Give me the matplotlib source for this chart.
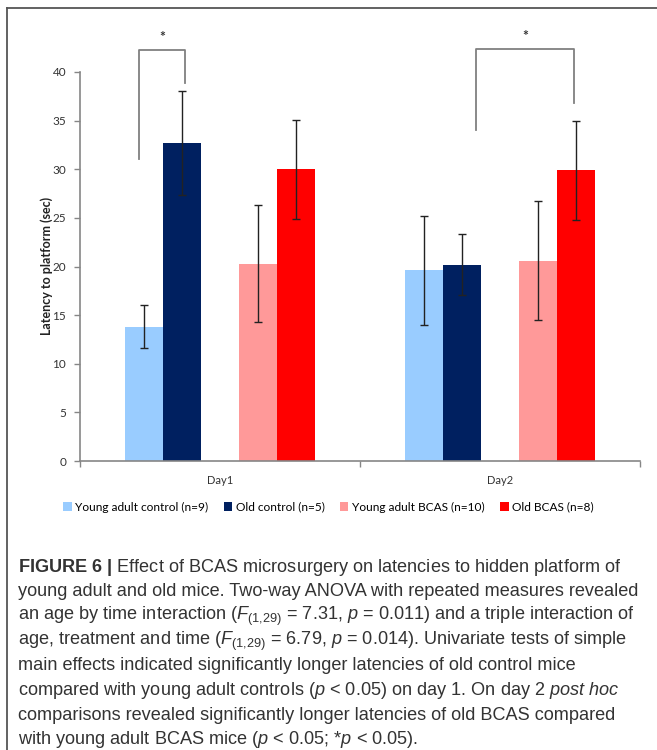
import numpy as np
import matplotlib
matplotlib.use('Agg')
from matplotlib import pyplot as plt
from matplotlib.lines import Line2D
from matplotlib.patches import Patch

# data
days = ['Day1', 'Day2']
groups = ['Young adult control (n=9)', 'Old control (n=5)',
          'Young adult BCAS (n=10)', 'Old BCAS (n=8)']
young_control = [13.8, 19.6]
old_control = [32.7, 20.2]
young_bcas = [20.3, 20.6]
old_bcas = [30.0, 29.9]
young_control_err = [2.2, 5.6]
old_control_err = [5.3, 3.1]
young_bcas_err = [6.0, 6.1]
old_bcas_err = [5.1, 5.1]

# significance brackets: (x left, x right, y left foot, y right foot, y top)
brackets = [(0.212, 0.375, 31.1, 38.9, 42.3),
            (1.414, 1.764, 34.0, 36.8, 42.4)]

caption_lines = [
    r'$\mathbf{FIGURE\ 6\ |}$ Effect of BCAS microsurgery on latencies to hidden platform of',
    'young adult and old mice. Two-way ANOVA with repeated measures revealed',
    r'an age by time interaction ($\mathit{F}_{(1{,}29)}$ = 7.31, $\mathit{p}$ = 0.011) and a triple interaction of',
    r'age, treatment and time ($\mathit{F}_{(1{,}29)}$ = 6.79, $\mathit{p}$ = 0.014). Univariate tests of simple',
    'main effects indicated significantly longer latencies of old control mice',
    r'compared with young adult controls ($\mathit{p}$ < 0.05) on day 1. On day 2 $\mathit{post\ hoc}$',
    'comparisons revealed significantly longer latencies of old BCAS compared',
    r'with young adult BCAS mice ($\mathit{p}$ < 0.05; *$\mathit{p}$ < 0.05).',
]

colors = ['#99ccff', '#002060', '#ff9999', '#ff0000']

plt.rcParams['mathtext.fontset'] = 'custom'
plt.rcParams['mathtext.rm'] = 'Liberation Sans'
plt.rcParams['mathtext.it'] = 'Liberation Sans:italic'
plt.rcParams['mathtext.bf'] = 'Liberation Sans:bold'

W, H = 657, 750
fig = plt.figure(figsize=(W / 100, H / 100), dpi=100)

ax = fig.add_axes([80 / W, 1 - 461 / H, 560 / W, 389 / H])

slot = 38 / 280
offsets = [-2, -1, 1, 2]
series = [young_control, old_control, young_bcas, old_bcas]
errs = [young_control_err, old_control_err, young_bcas_err, old_bcas_err]
centers = np.arange(len(days)) + 0.5
for vals, err, off, col in zip(series, errs, offsets, colors):
    x = centers + off * slot
    ax.bar(x, vals, width=slot, color=col, edgecolor='none', zorder=2)
    ax.errorbar(x, vals, yerr=err, fmt='none', ecolor='#222222',
                elinewidth=1.0, capsize=2.8, capthick=1.0, zorder=3)

for xl, xr, yl, yr, yt in brackets:
    ax.plot([xl, xl, xr, xr], [yl, yt, yt, yr], color='#808080', lw=1.3,
            clip_on=False, zorder=4)
    ax.text((xl + xr) / 2, yt + 1.3, '*', ha='center', va='center',
            fontsize=10, color='#333333', family='Lato', fontweight='bold',
            clip_on=False)

ax.set_xlim(0, 2)
ax.set_ylim(0, 40)
ax.set_yticks(np.arange(0, 41, 5))
ax.set_xticks([0, 1, 2])
ax.set_xticklabels([])
ax.set_xticks(centers, minor=True)
ax.set_xticklabels(days, minor=True, family='Lato', fontsize=8, color='#333333')
ax.tick_params(axis='x', which='minor', length=0, pad=10)
ax.tick_params(axis='x', which='major', length=4, color='#868686', width=1)
ax.tick_params(axis='y', length=4, color='#868686', width=1, pad=6,
               labelsize=8.5, labelcolor='#333333')
for lab in ax.get_yticklabels():
    lab.set_family('Lato')
for s in ['top', 'right']:
    ax.spines[s].set_visible(False)
for s in ['left', 'bottom']:
    ax.spines[s].set_color('#868686')
    ax.spines[s].set_linewidth(1.2)

fig.text(47 / W, 1 - 266 / H, 'Latency to platform (sec)', rotation=90,
         ha='center', va='center', fontsize=9, fontweight='bold',
         family='Lato', color='#222222')

handles = [Patch(facecolor=c, edgecolor='none') for c in colors]
fig.legend(handles, groups, loc='center', bbox_to_anchor=(0.5, 1 - 507 / H),
           ncol=4, frameon=False, prop={'family': 'Lato', 'size': 8.6},
           handlelength=0.7, handleheight=0.7, handletextpad=0.3,
           columnspacing=1.3)

# outer frame
fig.add_artist(Line2D([7 / W, 1.01], [1 - 8 / H, 1 - 8 / H], color='#555555',
                      lw=1.3, transform=fig.transFigure))
fig.add_artist(Line2D([7 / W, 7 / W], [1 - 8 / H, -0.01], color='#555555',
                      lw=1.3, transform=fig.transFigure))

for i, line in enumerate(caption_lines):
    y = 567 + i * 24.7
    fig.text(18 / W, 1 - y / H, line, ha='left', va='center', fontsize=13.1,
             family='Liberation Sans', color='#333333')

fig.savefig('out.png', dpi=100)
